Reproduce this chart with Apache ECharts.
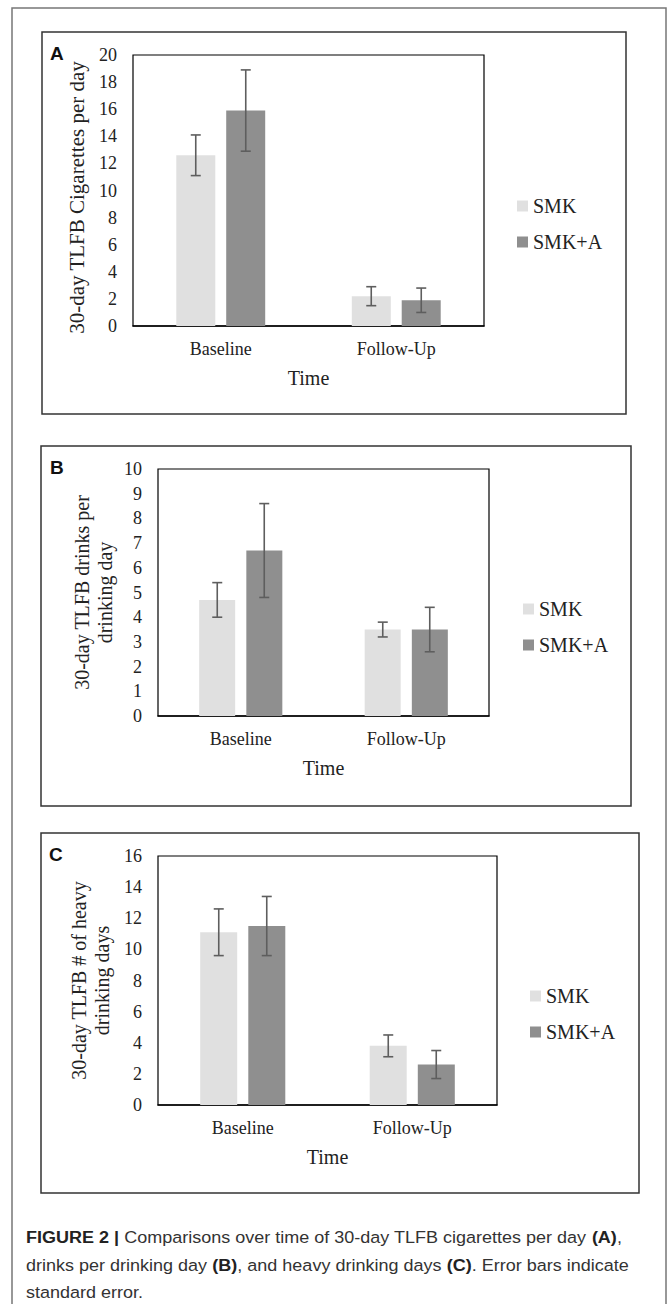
<!DOCTYPE html>
<html>
<head>
<meta charset="utf-8">
<script src="https://cdn.jsdelivr.net/npm/echarts@6/dist/echarts.min.js"></script>
<style>
html,body{margin:0;padding:0;background:#fff;}
#chart{width:667px;height:1304px;}
</style>
</head>
<body>
<div id="chart"></div>
<script>
// ---- data ----
var categories = ['Baseline', 'Follow-Up'];
var seriesNames = ['SMK', 'SMK+A'];

// Panel A: 30-day TLFB cigarettes per day
var aSMK = [12.6, 2.2];
var aSMKA = [15.9, 1.9];
var aSMKErr = [1.5, 0.7];
var aSMKAErr = [3.0, 0.9];

// Panel B: drinks per drinking day
var bSMK = [4.7, 3.5];
var bSMKA = [6.7, 3.5];
var bSMKErr = [0.7, 0.3];
var bSMKAErr = [1.9, 0.9];

// Panel C: heavy drinking days
var cSMK = [11.1, 3.8];
var cSMKA = [11.5, 2.6];
var cSMKErr = [1.5, 0.7];
var cSMKAErr = [1.9, 0.9];

var yNames = ['30-day TLFB Cigarettes per day', '30-day TLFB drinks per\ndrinking day', '30-day TLFB # of heavy\ndrinking days'];
var yMax = [20, 10, 16];
var yStep = [2, 1, 2];
var panelLetters = ['A', 'B', 'C'];
var xName = 'Time';

// ---- styling / layout ----
var SERIF = 'Liberation Serif, Times New Roman, serif';
var COL_LIGHT = '#e0e0e0';
var COL_DARK = '#8f8f8f';
var ERR_COL = '#5e5e5e';

var grids = [
  {left: 133, top: 55, width: 351, height: 271},
  {left: 158, top: 469, width: 331, height: 247},
  {left: 158, top: 856, width: 339, height: 249}
];
var barW = [39, 36, 37];
var gapPx = [11, 11, 11];
var legendPos = [{left: 517, top: 196}, {left: 523, top: 599}, {left: 530, top: 986}];
var panelBoxes = [
  {x: 42, y: 32, w: 584, h: 382},
  {x: 41, y: 446, w: 590, h: 360},
  {x: 41, y: 833, w: 598, h: 360}
];
var letterPos = [{x: 50, y: 44}, {x: 50, y: 458}, {x: 49, y: 845}];
var yNameFont = [21, 20, 20];
var yNamePad = [[0, 14, 0, 0], 0, 0];

var panels = [
  {v1: aSMK, v2: aSMKA, e1: aSMKErr, e2: aSMKAErr},
  {v1: bSMK, v2: bSMKA, e1: bSMKErr, e2: bSMKAErr},
  {v1: cSMK, v2: cSMKA, e1: cSMKErr, e2: cSMKAErr}
];

function errData(v, e) {
  return categories.map(function (c, i) { return [i, v[i] - e[i], v[i] + e[i]]; });
}

function errRender(offset) {
  return function (params, api) {
    var x = api.value(0);
    var lo = api.coord([x, api.value(1)]);
    var hi = api.coord([x, api.value(2)]);
    var cx = lo[0] + offset;
    var cap = 5;
    var st = {stroke: ERR_COL, lineWidth: 1.6};
    return {
      type: 'group',
      children: [
        {type: 'line', shape: {x1: cx, y1: lo[1], x2: cx, y2: hi[1]}, style: st},
        {type: 'line', shape: {x1: cx - cap, y1: hi[1], x2: cx + cap, y2: hi[1]}, style: st},
        {type: 'line', shape: {x1: cx - cap, y1: lo[1], x2: cx + cap, y2: lo[1]}, style: st}
      ]
    };
  };
}

var gridOpt = [], xAxes = [], yAxes = [], series = [], legends = [], graphics = [];

panels.forEach(function (p, k) {
  gridOpt.push({
    left: grids[k].left, top: grids[k].top, width: grids[k].width, height: grids[k].height,
    show: true, borderColor: '#000', borderWidth: 1.2, backgroundColor: 'transparent'
  });
  xAxes.push({
    type: 'category', gridIndex: k, data: categories,
    axisLine: {lineStyle: {color: '#000', width: 1.5}},
    axisTick: {show: false},
    axisLabel: {fontFamily: SERIF, fontSize: 18, color: '#222', margin: 14},
    name: xName, nameLocation: 'middle', nameGap: 42,
    nameTextStyle: {fontFamily: SERIF, fontSize: 20, color: '#222'}
  });
  yAxes.push({
    type: 'value', gridIndex: k, min: 0, max: yMax[k], interval: yStep[k],
    axisLine: {show: false}, axisTick: {show: false}, splitLine: {show: false},
    axisLabel: {fontFamily: SERIF, fontSize: 18, color: '#222', margin: 16},
    name: yNames[k], nameLocation: 'middle', nameRotate: 90, nameGap: 42,
    nameTextStyle: {fontFamily: SERIF, fontSize: yNameFont[k], color: '#222', lineHeight: 23, padding: yNamePad[k]}
  });
  var barGapPct = Math.round(gapPx[k] / barW[k] * 100) + '%';
  series.push({
    name: seriesNames[0], type: 'bar', xAxisIndex: k, yAxisIndex: k,
    data: p.v1, barWidth: barW[k], barGap: barGapPct,
    itemStyle: {color: COL_LIGHT}, silent: true
  });
  series.push({
    name: seriesNames[1], type: 'bar', xAxisIndex: k, yAxisIndex: k,
    data: p.v2, barWidth: barW[k], barGap: barGapPct,
    itemStyle: {color: COL_DARK}, silent: true
  });
  var off = (barW[k] + gapPx[k]) / 2;
  series.push({
    name: 'err' + k + 'a', type: 'custom', xAxisIndex: k, yAxisIndex: k,
    data: errData(p.v1, p.e1), encode: {x: 0, y: [1, 2]},
    renderItem: errRender(-off), z: 10, silent: true
  });
  series.push({
    name: 'err' + k + 'b', type: 'custom', xAxisIndex: k, yAxisIndex: k,
    data: errData(p.v2, p.e2), encode: {x: 0, y: [1, 2]},
    renderItem: errRender(off), z: 10, silent: true
  });
  legends.push({
    data: seriesNames, orient: 'vertical', left: legendPos[k].left, top: legendPos[k].top,
    itemWidth: 11, itemHeight: 11, itemGap: 16, icon: 'rect', selectedMode: false,
    padding: 0,
    textStyle: {fontFamily: SERIF, fontSize: 20, color: '#222', lineHeight: 20}
  });
  graphics.push({
    type: 'rect', shape: {x: panelBoxes[k].x, y: panelBoxes[k].y, width: panelBoxes[k].w, height: panelBoxes[k].h},
    style: {fill: 'none', stroke: '#333', lineWidth: 1.5}, silent: true
  });
  graphics.push({
    type: 'text', x: letterPos[k].x, y: letterPos[k].y,
    style: {text: panelLetters[k], font: 'bold 19px "Liberation Sans", Arial, sans-serif', fill: '#111'}
  });
});

// outer frame
graphics.push({
  type: 'rect', shape: {x: 12, y: 8, width: 654, height: 1320},
  style: {fill: 'none', stroke: '#777', lineWidth: 1.5}, silent: true
});

// caption
var capFont = '"Liberation Sans", Arial, sans-serif';
var capRich = {
  b: {fontFamily: capFont, fontWeight: 'bold', fontSize: 17, fill: '#222'},
  n: {fontFamily: capFont, fontSize: 17, fill: '#333'}
};
var capLines = [
  '{b|FIGURE 2 |}{n| Comparisons over time of 30-day TLFB cigarettes per day }{b|(A)}{n|,}',
  '{n|drinks per drinking day }{b|(B)}{n|, and heavy drinking days }{b|(C)}{n|. Error bars indicate}',
  '{n|standard error.}'
];
var capY = [1237, 1265, 1292];
capLines.forEach(function (t, i) {
  graphics.push({
    type: 'text', x: 26, y: capY[i], scaleX: 1.06,
    style: {text: t, rich: capRich, verticalAlign: 'middle', textVerticalAlign: 'middle'}
  });
});

var chart = echarts.init(document.getElementById('chart'), null, {renderer: 'svg'});
chart.setOption({
  animation: false,
  backgroundColor: '#fff',
  grid: gridOpt,
  xAxis: xAxes,
  yAxis: yAxes,
  legend: legends,
  series: series,
  graphic: graphics
});
</script>
</body>
</html>
